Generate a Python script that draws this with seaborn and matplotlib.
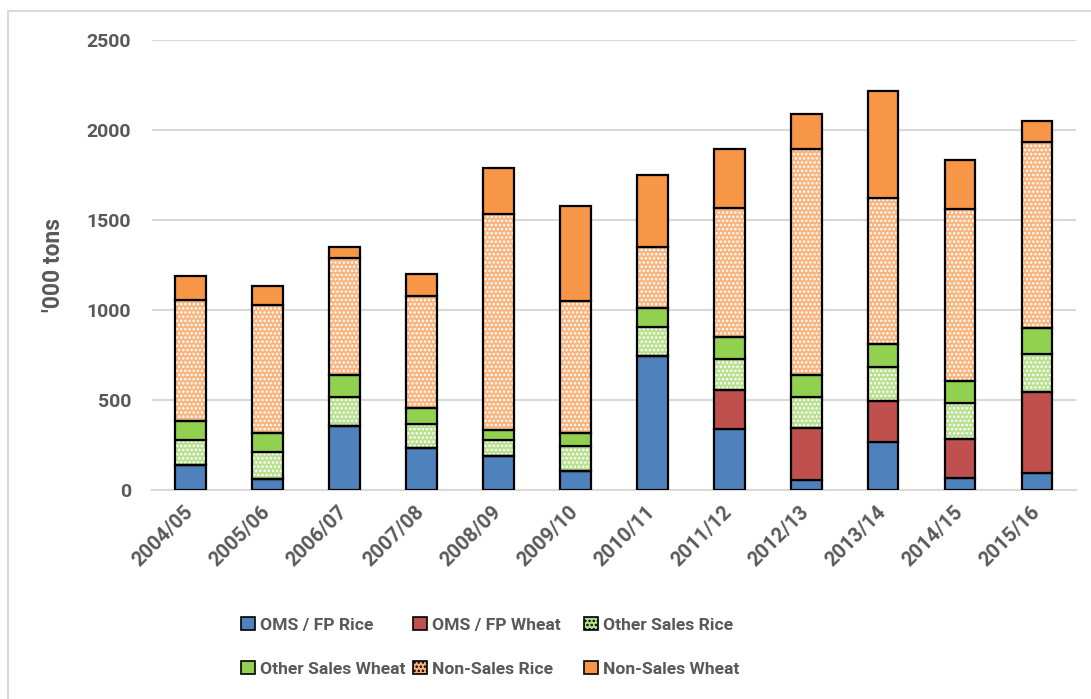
import numpy as np
import pandas as pd
import matplotlib
matplotlib.use("Agg")
import matplotlib.pyplot as plt
from matplotlib.patches import Patch
from matplotlib.lines import Line2D
import seaborn as sns

# Distribution by channel, '000 tons
years = ["2004/05", "2005/06", "2006/07", "2007/08", "2008/09", "2009/10",
         "2010/11", "2011/12", "2012/13", "2013/14", "2014/15", "2015/16"]
oms_rice = [139, 63, 357, 233, 189, 106, 744, 339, 56, 269, 65, 96]
oms_wheat = [0, 0, 0, 0, 0, 0, 0, 217, 287, 225, 220, 450]
other_rice = [137, 146, 158, 134, 89, 138, 162, 174, 176, 189, 196, 210]
other_wheat = [107, 108, 122, 89, 55, 73, 105, 120, 122, 128, 125, 146]
nonsales_rice = [673, 709, 652, 622, 1200, 733, 339, 719, 1253, 809, 957, 1031]
nonsales_wheat = [134, 109, 61, 122, 256, 528, 400, 325, 193, 597, 272, 119]

series = [
    ("OMS / FP Rice", oms_rice, "#4F81BD", None, None),
    ("OMS / FP Wheat", oms_wheat, "#C0504D", None, None),
    ("Other Sales Rice", other_rice, "#B9E08E", "white", "...."),
    ("Other Sales Wheat", other_wheat, "#92D050", None, None),
    ("Non-Sales Rice", nonsales_rice, "#F9B47E", "white", "...."),
    ("Non-Sales Wheat", nonsales_wheat, "#F79646", None, None),
]

sns.set_theme(style="white")
plt.rcParams["font.family"] = ["Roboto", "DejaVu Sans"]
plt.rcParams["hatch.linewidth"] = 1.2
text_col = "#595959"

fig = plt.figure(figsize=(10.91, 6.99), dpi=100)
W, H = 1091, 699
ax = fig.add_axes([152 / W, 1 - 490 / H, (1075.5 - 152) / W, (490 - 40) / H])

bottom = np.zeros(len(years))
handles = []
for name, vals, color, hcol, hatch in series:
    df = pd.DataFrame({"year": years, "value": vals})
    if hatch:
        # patterned fill: dots drawn in the edge colour, outline added separately
        sns.barplot(data=df, x="year", y="value", ax=ax, color=color,
                    saturation=1, width=0.4, bottom=bottom, edgecolor=hcol,
                    linewidth=0, hatch=hatch, zorder=2)
        sns.barplot(data=df, x="year", y="value", ax=ax, color="black",
                    fill=False, width=0.4, bottom=bottom, edgecolor="black",
                    linewidth=1.6, zorder=3)
        handles.append(Patch(facecolor=color, edgecolor="black", hatch=hatch,
                             linewidth=1.2, label=name))
    else:
        sns.barplot(data=df, x="year", y="value", ax=ax, color=color,
                    saturation=1, width=0.4, bottom=bottom, edgecolor="black",
                    linewidth=1.6, zorder=3)
        handles.append(Patch(facecolor=color, edgecolor="black",
                             linewidth=1.2, label=name))
    bottom = bottom + np.array(vals)

ax.set_ylim(0, 2500)
ax.set_xlim(-0.5, len(years) - 0.5)
ax.set_yticks(range(0, 2501, 500))
ax.yaxis.grid(True, color="#D9D9D9", linewidth=1.5, zorder=0)
ax.set_axisbelow(True)
for side in ["left", "right", "top"]:
    ax.spines[side].set_visible(False)
ax.spines["bottom"].set_color("#D9D9D9")
ax.spines["bottom"].set_linewidth(1.5)
ax.tick_params(axis="y", length=0, pad=15, labelsize=14, labelcolor=text_col)
ax.tick_params(axis="x", length=0, pad=14, labelsize=14.5, labelcolor=text_col)
for lab in ax.get_yticklabels():
    lab.set_fontweight("bold")
for lab in ax.get_xticklabels():
    lab.set_fontweight("bold")
    lab.set_rotation(45)
    lab.set_ha("right")
    lab.set_va("center")
    lab.set_rotation_mode("anchor")
ax.set_xlabel("")
ax.set_ylabel("")
fig.text(53 / W, 1 - 265 / H, "'000 tons", rotation=90, ha="center",
         va="center", fontsize=16.5, fontweight="bold", color=text_col)

# legend laid out as three columns of two entries
col_x = [241, 413, 584]
order = [(0, 3), (1, 4), (2, 5)]
for x, (i, j) in zip(col_x, order):
    leg = fig.legend(handles=[handles[i], handles[j]], loc="upper left",
                     bbox_to_anchor=(x / W, 1 - 617 / H), frameon=False,
                     fontsize=12.6, handlelength=0.8, handleheight=0.8,
                     handletextpad=0.3, labelspacing=1.6, borderpad=0,
                     borderaxespad=0)
    for t in leg.get_texts():
        t.set_color(text_col)
        t.set_fontweight("bold")

# chart area border
fig.add_artist(Line2D([7.5 / W, 7.5 / W], [0, 1 - 10.5 / H],
                      transform=fig.transFigure, color="#D9D9D9", lw=1.5))
fig.add_artist(Line2D([7.5 / W, 1], [1 - 10.5 / H, 1 - 10.5 / H],
                      transform=fig.transFigure, color="#D9D9D9", lw=1.5))

fig.savefig("out.png", dpi=100)
